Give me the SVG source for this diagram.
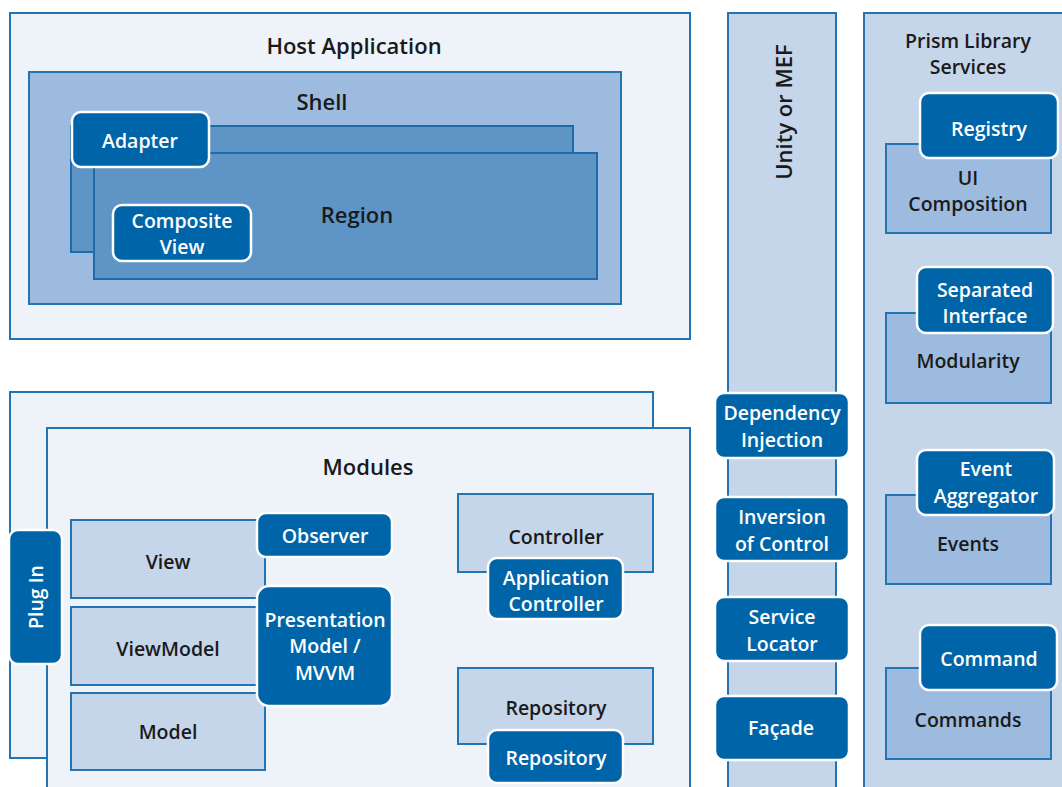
<svg xmlns="http://www.w3.org/2000/svg" width="1062" height="787" viewBox="0 0 1062 787">
<style>
text{font-family:"Open Sans","Liberation Sans",sans-serif;font-weight:600;text-anchor:middle;dominant-baseline:central}
.lt{fill:#eef2f9;stroke:#2474b2;stroke-width:2}
.mid{fill:#9dbadf;stroke:#2474b2;stroke-width:2}
.dk{fill:#5e94c6;stroke:#1f6aa8;stroke-width:2}
.pale{fill:#c5d5ea;stroke:#2474b2;stroke-width:2}
.btn{fill:#0065a8;stroke:#ffffff;stroke-width:2.5}
.t{fill:#1a1a1a;font-size:19.5px}
.tt{fill:#1a1a1a;font-size:22px}
.w{fill:#ffffff;font-size:19.5px}
</style>
<rect width="1062" height="787" fill="#ffffff"/>
<g id="host">
<rect class="lt" x="10" y="13" width="680" height="326"/>
<text class="tt" x="354" y="45">Host Application</text>
</g>
<g id="shell">
<rect class="mid" x="29" y="72" width="592" height="232"/>
<text class="tt" x="322" y="101">Shell</text>
</g>
<g id="region">
<rect class="dk" x="71" y="126" width="502" height="126"/>
<rect class="dk" x="94" y="153" width="503" height="126"/>
<text class="tt" x="357" y="214">Region</text>
</g>
<g id="adapter">
<rect class="btn" x="72" y="112" width="137" height="55" rx="9"/>
<text class="w" x="140" y="140">Adapter</text>
</g>
<g id="composite-view">
<rect class="btn" x="113" y="205" width="138" height="56" rx="9"/>
<text class="w" x="182" y="220">Composite</text>
<text class="w" x="182" y="246">View</text>
</g>
<g id="unity">
<rect class="pale" x="728" y="13" width="108" height="790"/>
<text class="tt" font-size="23" transform="translate(783 112) rotate(-90)">Unity or MEF</text>
</g>
<g id="dependency-injection">
<rect class="btn" x="715" y="393" width="134" height="65" rx="9"/>
<text class="w" x="782" y="412">Dependency</text>
<text class="w" x="782" y="439">Injection</text>
</g>
<g id="inversion-of-control">
<rect class="btn" x="715" y="497" width="134" height="64" rx="9"/>
<text class="w" x="782" y="516">Inversion</text>
<text class="w" x="782" y="543">of Control</text>
</g>
<g id="service-locator">
<rect class="btn" x="715" y="597" width="134" height="64" rx="9"/>
<text class="w" x="782" y="616">Service</text>
<text class="w" x="782" y="643">Locator</text>
</g>
<g id="facade">
<rect class="btn" x="715" y="696" width="134" height="64" rx="9"/>
<text class="w" x="781" y="727">Façade</text>
</g>
<g id="prism">
<rect class="pale" x="864" y="13" width="210" height="790"/>
<text class="t" x="968" y="40">Prism Library</text>
<text class="t" x="968" y="66">Services</text>
</g>
<g id="ui-composition">
<rect class="mid" x="886" y="144" width="165" height="89"/>
<text class="t" x="968" y="177">UI</text>
<text class="t" x="968" y="203">Composition</text>
</g>
<g id="registry">
<rect class="btn" x="920" y="93" width="138" height="65" rx="9"/>
<text class="w" x="989" y="128">Registry</text>
</g>
<g id="modularity">
<rect class="mid" x="886" y="313" width="165" height="90"/>
<text class="t" x="968" y="360">Modularity</text>
</g>
<g id="separated-interface">
<rect class="btn" x="917" y="267" width="136" height="66" rx="9"/>
<text class="w" x="985" y="289">Separated</text>
<text class="w" x="985" y="315">Interface</text>
</g>
<g id="events">
<rect class="mid" x="886" y="495" width="165" height="89"/>
<text class="t" x="968" y="543">Events</text>
</g>
<g id="event-aggregator">
<rect class="btn" x="917" y="450" width="137" height="65" rx="9"/>
<text class="w" x="986" y="468">Event</text>
<text class="w" x="986" y="495">Aggregator</text>
</g>
<g id="commands">
<rect class="mid" x="886" y="668" width="165" height="91"/>
<text class="t" x="968" y="719">Commands</text>
</g>
<g id="command">
<rect class="btn" x="920" y="625" width="137" height="65" rx="9"/>
<text class="w" x="989" y="658">Command</text>
</g>
<g id="modules">
<rect class="lt" x="10" y="392" width="643" height="366"/>
<rect class="lt" x="47" y="428" width="643" height="380"/>
<text class="tt" x="368" y="466">Modules</text>
</g>
<g id="plug-in">
<rect class="btn" x="9" y="530" width="53" height="134" rx="9"/>
<text class="w" transform="translate(35 597) rotate(-90)">Plug In</text>
</g>
<g id="view">
<rect class="pale" x="71" y="520" width="194" height="78"/>
<text class="t" x="168" y="561">View</text>
</g>
<g id="viewmodel">
<rect class="pale" x="71" y="607" width="194" height="78"/>
<text class="t" x="168" y="648">ViewModel</text>
</g>
<g id="model">
<rect class="pale" x="71" y="693" width="194" height="77"/>
<text class="t" x="168" y="731">Model</text>
</g>
<g id="observer">
<rect class="btn" x="257" y="513" width="135" height="44" rx="9"/>
<text class="w" x="325" y="535">Observer</text>
</g>
<g id="presentation-model">
<rect class="btn" x="257" y="586" width="135" height="120" rx="12"/>
<text class="w" x="325" y="619">Presentation</text>
<text class="w" x="325" y="645">Model /</text>
<text class="w" x="325" y="672">MVVM</text>
</g>
<g id="controller">
<rect class="pale" x="458" y="494" width="195" height="78"/>
<text class="t" x="556" y="536">Controller</text>
</g>
<g id="application-controller">
<rect class="btn" x="488" y="558" width="135" height="61" rx="9"/>
<text class="w" x="556" y="577">Application</text>
<text class="w" x="556" y="603">Controller</text>
</g>
<g id="repository">
<rect class="pale" x="458" y="668" width="195" height="76"/>
<text class="t" x="556" y="707">Repository</text>
</g>
<g id="repository-pattern">
<rect class="btn" x="488" y="730" width="135" height="53" rx="9"/>
<text class="w" x="556" y="757">Repository</text>
</g>
<g id="connectors"></g>
</svg>
